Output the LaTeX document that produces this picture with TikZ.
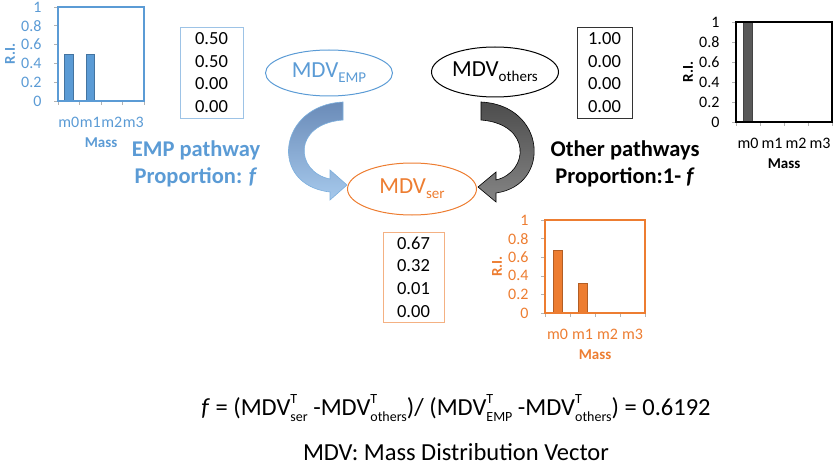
\documentclass[tikz,border=0pt]{standalone}
\usepackage{fontspec}
\setmainfont{Carlito}
\usetikzlibrary{shapes.geometric}
\definecolor{cblue}{HTML}{5B9BD5}
\definecolor{corange}{HTML}{ED7D31}
\definecolor{cgray}{HTML}{595959}
\definecolor{lblue}{HTML}{9DC3E6}
\definecolor{lorange}{HTML}{F4B183}
\definecolor{arrowtop}{HTML}{6A8BB8}
\definecolor{arrowbot}{HTML}{A6C9EC}
\newcommand{\axisb}{\fontsize{15}{17}\selectfont\bfseries}
\newcommand{\mysub}[1]{\raisebox{-0.22em}{\fontsize{15}{15}\selectfont #1}}
\newcommand{\mysupsub}[2]{\rlap{\raisebox{0.5em}{\fontsize{14}{14}\selectfont #1}}\raisebox{-0.25em}{\fontsize{14}{14}\selectfont #2}}
\tikzset{
  tickc/.style={draw=gray!60, line width=0.6pt},
  numbox/.style={draw, line width=0.8pt, inner sep=0pt, align=center, font=\fontsize{18.5}{22.7}\selectfont},
  mdv/.style={ellipse, draw, line width=1pt, inner sep=0pt, font=\fontsize{23}{27}\selectfont},
  pathtext/.style={font=\fontsize{22.5}{27}\selectfont\bfseries, align=center}
}
\newcommand{\drawchart}[8]{%
 \pgfmathsetmacro\cwid{(#5-#4)/4}%
 \pgfmathsetmacro\chgt{#7-#6}%
 \foreach \t in {0,...,4} {\draw[tickc] (#4+\t*\cwid,#7) -- ++(0,4);}%
 \foreach \j in {0,...,5} {\draw[tickc] (#4,#7-\j*\chgt/5) -- ++(-4,0);}%
 \foreach \v [count=\i from 0] in {#8} {%
   \pgfmathsetmacro\bx{#4+(\i+0.5)*\cwid}%
   \ifdim \v pt>0pt \path[fill=#3, draw=#3!75!black, line width=0.5pt] (\bx-4.4,#7) rectangle (\bx+4.4,#7-\v*\chgt);\fi
   \node[text=#2] (#1-m\i) at (\bx,#7+21) {m\i};
 }%
 \foreach \l [count=\j from 0] in {0,0.2,0.4,0.6,0.8,1} {%
   \node[anchor=east, text=#2] (#1-y\j) at (#4-13,#7-\j*\chgt/5) {\l};
 }%
 \draw[#2, line width=2pt] (#4,#6) rectangle (#5,#7);
 \node[text=#2, font=\axisb] (#1-mass) at ({(#4+#5)/2},#7+42) {Mass};
 \node[text=#2, font=\axisb, rotate=90] (#1-ri) at (#4-48,{(#6+#7)/2}) {R.I.};
}
\begin{document}
\begin{tikzpicture}[x=1pt,y=-1pt, font=\fontsize{16}{19}\selectfont]
\useasboundingbox (0,0) rectangle (835,468);

% charts
\drawchart{L}{cblue}{cblue}{58}{144}{7}{101}{0.5,0.5,0,0}
\drawchart{R}{black}{cgray}{736}{832}{22}{122}{1,0,0,0}
\drawchart{O}{corange}{corange}{545}{645}{220}{313}{0.67,0.32,0.01,0}

% number boxes
\node[numbox, draw=lblue, minimum width=63pt, minimum height=91pt] (boxemp) at (211.5,72.5) {0.50\\0.50\\0.00\\0.00};
\node[numbox, draw=black!80, minimum width=55pt, minimum height=91pt] (boxoth) at (604.5,72.5) {1.00\\0.00\\0.00\\0.00};
\node[numbox, draw=lorange, minimum width=61pt, minimum height=90pt] (boxser) at (413.5,277) {0.67\\0.32\\0.01\\0.00};

% ellipses
\node[mdv, draw=cblue, text=cblue, minimum width=127pt, minimum height=46pt] (emp) at (329,73) {MDV\mysub{EMP}};
\node[mdv, draw=black, text=black, minimum width=127pt, minimum height=50pt] (oth) at (495,72) {MDV\mysub{others}};
\node[mdv, draw=corange, text=corange, minimum width=129pt, minimum height=52pt] (ser) at (412,189) {MDV\mysub{ser}};

% curved block arrows
\path[top color=arrowtop, bottom color=arrowbot, draw=cblue!80, line width=0.6pt]
  (343,102) .. controls (278,105) and (268,185) .. (330,192)
  -- (330,200) -- (347,185) -- (330,170) -- (330,179)
  .. controls (295,172) and (292,124) .. (343,120) -- cycle;
\path[top color=black!70, bottom color=black!48, draw=black, line width=0.6pt]
  (481,102) .. controls (546,105) and (552,185) .. (496,193)
  -- (496,202) -- (478,187) -- (496,172) -- (496,180)
  .. controls (529,172) and (532,124) .. (481,120) -- cycle;

% pathway texts
\node[pathtext, text=cblue] (emptext) at (196,163.5) {EMP pathway\\Proportion: \textit{f}};
\node[pathtext, text=black] (othtext) at (625,163.5) {Other pathways\\Proportion:1- \textit{f}};

% formula
\node[font=\fontsize{24.5}{28}\selectfont] (formula) at (456,408)
  {\textit{f} = (MDV\mysupsub{T}{ser} -MDV\mysupsub{T}{others})/ (MDV\mysupsub{T}{EMP} -MDV\mysupsub{T}{others}) = 0.6192};
\node[font=\fontsize{24.5}{28}\selectfont] (legend) at (456,452) {MDV: Mass Distribution Vector};
\end{tikzpicture}
\end{document}
